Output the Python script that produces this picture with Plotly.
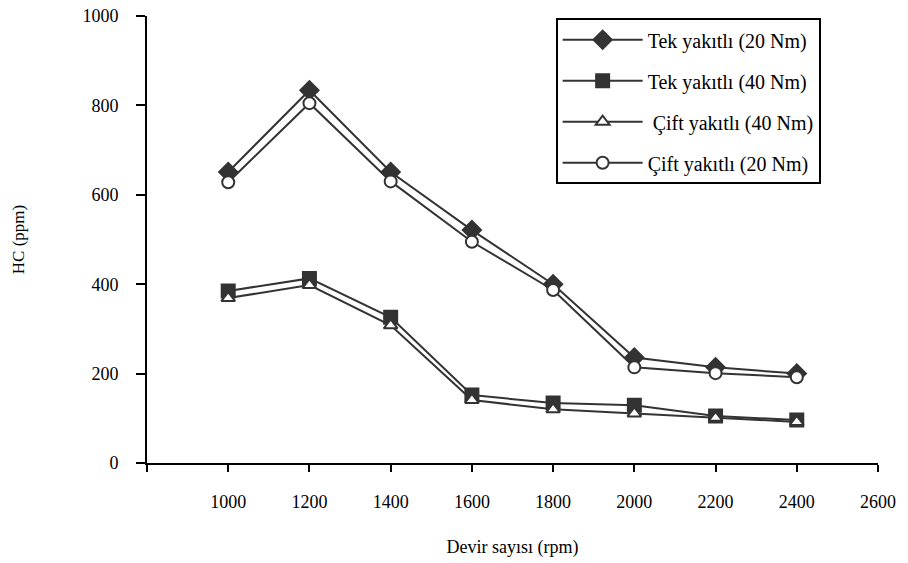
import plotly.graph_objects as go

rpm = [1000, 1200, 1400, 1600, 1800, 2000, 2200, 2400]
tek_20 = [651, 834, 651, 521, 400, 236, 214, 200]
tek_40 = [385, 413, 326, 152, 134, 129, 105, 96]
cift_40 = [369, 398, 308, 141, 120, 111, 101, 92]
cift_20 = [628, 805, 630, 495, 387, 214, 201, 192]

x_ticks = [800, 1000, 1200, 1400, 1600, 1800, 2000, 2200, 2400, 2600]
x_labels = ["", "1000", "1200", "1400", "1600", "1800", "2000", "2200", "2400", "2600"]
y_ticks = [0, 200, 400, 600, 800, 1000]

names = ["Tek yakıtlı (20 Nm)", "Tek yakıtlı (40 Nm)", " Çift yakıtlı (40 Nm)", "Çift yakıtlı (20 Nm)"]
series = [tek_20, tek_40, cift_40, cift_20]
symbols = ["diamond", "square", "triangle-up", "circle"]
fills = ["#333333", "#333333", "white", "white"]
sizes = [14, 13, 12, 12]

LC = "#333333"
FONT = "Liberation Serif"

fig = go.Figure()
for i, (nm, ys) in enumerate(zip(names, series)):
    fig.add_trace(go.Scatter(
        x=rpm, y=ys, name=nm, mode="lines+markers",
        line=dict(color=LC, width=2),
        marker=dict(symbol=symbols[i], size=sizes[i], color=fills[i],
                    line=dict(color=LC, width=2)),
        legendgroup=f"g{i}",
    ))

fig.update_layout(
    width=908, height=563,
    margin=dict(l=147, r=30, t=16, b=100),
    paper_bgcolor="white", plot_bgcolor="white",
    font=dict(family=FONT, size=17, color="black"),
    showlegend=True,
    legend=dict(
        x=0.559, y=0.995, xanchor="left", yanchor="top",
        bgcolor="white", bordercolor="black", borderwidth=2,
        font=dict(family=FONT, size=20, color="black"),
        itemwidth=80, tracegroupgap=12,
    ),
    xaxis=dict(
        range=[800, 2600], tickvals=x_ticks, ticktext=x_labels,
        showline=True, linecolor="black", linewidth=2,
        ticks="outside", ticklen=7, tickwidth=2, tickcolor="black",
        showgrid=False, zeroline=False, ticklabelstandoff=14,
        ticklabeloverflow="allow",
        tickfont=dict(family=FONT, size=18), automargin=False,
        title=dict(text="Devir sayısı (rpm)", font=dict(family=FONT, size=18), standoff=30),
    ),
    yaxis=dict(
        range=[0, 1000], tickvals=y_ticks,
        showline=True, linecolor="black", linewidth=2,
        ticks="outside", ticklen=9, tickwidth=2, tickcolor="black",
        showgrid=False, zeroline=False, ticklabelstandoff=14,
        ticklabeloverflow="allow",
        tickfont=dict(family=FONT, size=18), automargin=False,
        title=dict(text="HC (ppm)", font=dict(family=FONT, size=17), standoff=53),
    ),
)

fig.write_html("out.html", config={"displayModeBar": False},
               post_script="document.body.style.margin='0';")
